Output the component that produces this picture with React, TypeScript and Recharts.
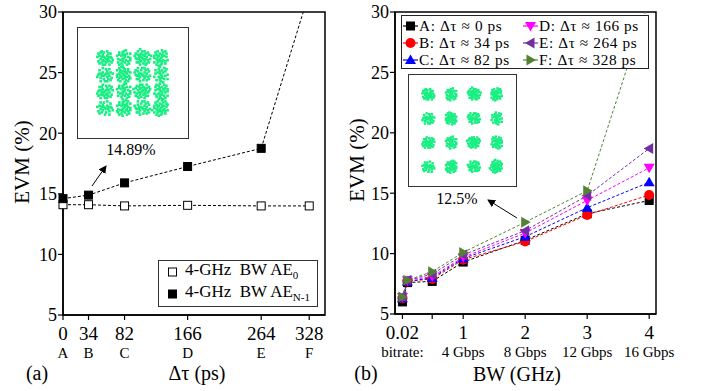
import React from "react";
import {
  Line,
  LineChart,
  ReferenceArea,
  Scatter,
  ScatterChart,
  XAxis,
  YAxis,
} from "recharts";

const FONT = '"Liberation Serif", Tinos, "Times New Roman", Times, "Nimbus Roman", "DejaVu Serif", serif';
const QAM_GREEN = "#17ee82";

// (a) EVM vs. delay mismatch, 4-GHz BW
const DELAY_PS = [0, 34, 82, 166, 264, 328];
const DELAY_LETTERS = ["A", "B", "C", "D", "E", "F"];
const EVM_AE0 = [14.1, 14.1, 14.0, 14.05, 14.0, 14.0];
const EVM_AEN1 = [14.6, 14.89, 15.9, 17.25, 18.75, 31.6];

// (b) EVM vs. bandwidth for each delay
const BW_GHZ = [0.02, 0.1, 0.5, 1, 2, 3, 4];
const EVM_A = [6.0, 7.6, 7.7, 9.3, 11.1, 13.3, 14.4];
const EVM_B = [6.3, 7.7, 7.9, 9.5, 11.0, 13.2, 14.85];
const EVM_C = [6.3, 7.7, 8.0, 9.6, 11.4, 13.8, 15.9];
const EVM_D = [6.4, 7.8, 8.1, 9.7, 11.7, 14.4, 17.1];
const EVM_E = [6.4, 7.8, 8.3, 9.9, 11.9, 14.8, 18.7];
const EVM_F = [6.4, 7.8, 8.5, 10.1, 12.6, 15.2, 31.0];

const BW_TICKS = [0.02, 0.5, 1, 2, 3, 4];
const BW_TICK_LABELS = ["0.02", "", "1", "2", "3", "4"];
const BITRATE_LABELS = ["bitrate:", "", "4 Gbps", "8 Gbps", "12 Gbps", "16 Gbps"];
const EVM_TICKS = [5, 10, 15, 20, 25, 30];

// 16-QAM symbol levels for the constellation insets
const QAM_LEVELS = [-3, -1, 1, 3];

type Shape = "square" | "circle" | "up" | "down" | "left" | "right";

interface SeriesDef {
  key: string;
  name: string;
  color: string;
  shape: Shape;
  values: number[];
}

const SERIES: SeriesDef[] = [
  { key: "a", name: "A: Δτ ≈ 0 ps", color: "#000000", shape: "square", values: EVM_A },
  { key: "b", name: "B: Δτ ≈ 34 ps", color: "#ff0000", shape: "circle", values: EVM_B },
  { key: "c", name: "C: Δτ ≈ 82 ps", color: "#0000ff", shape: "up", values: EVM_C },
  { key: "d", name: "D: Δτ ≈ 166 ps", color: "#ff00ff", shape: "down", values: EVM_D },
  { key: "e", name: "E: Δτ ≈ 264 ps", color: "#7030a0", shape: "left", values: EVM_E },
  { key: "f", name: "F: Δτ ≈ 328 ps", color: "#548235", shape: "right", values: EVM_F },
];

const delayData = DELAY_PS.map((ps, i) => ({ ps, ae0: EVM_AE0[i], aen1: EVM_AEN1[i] }));

const bwData = BW_GHZ.map((bw, i) => {
  const row: Record<string, number> = { bw };
  SERIES.forEach((s) => {
    row[s.key] = s.values[i];
  });
  return row;
});

const qamPoints = QAM_LEVELS.flatMap((q) => QAM_LEVELS.map((i) => ({ i, q })));

// scatter pattern of received symbols around each constellation point
const BLOB = [
  [0, 0], [2, -3], [-3, -1], [4, 1], [-1, 4], [3, 4], [-4, 3], [1, -5],
  [-5, -4], [5, -2], [-2, -6], [6, 3], [0, 6], [-6, 0], [4, -5], [-4, 6],
  [7, -1], [-7, 2], [2, 2], [-2, -2], [1, -1], [-1, 1], [3, -1], [-3, 1],
  [5, 5], [-5, -1], [2, 6], [-3, -4], [6, -4], [-6, 4], [1, 3], [-2, 3],
  [3, -6], [-1, -3], [8, 2], [-2, 8],
];

function Marker({ shape, cx, cy, color, size, hollow }: {
  shape: Shape;
  cx: number;
  cy: number;
  color: string;
  size: number;
  hollow?: boolean;
}) {
  const h = size / 2;
  const fill = hollow ? "#fff" : color;
  const stroke = color;
  switch (shape) {
    case "square":
      return <rect x={cx - h} y={cy - h} width={size} height={size} fill={fill} stroke={stroke} strokeWidth={1} />;
    case "circle":
      return <circle cx={cx} cy={cy} r={h} fill={fill} />;
    case "up":
      return <polygon points={`${cx},${cy - h * 1.1} ${cx - h * 1.1},${cy + h * 0.8} ${cx + h * 1.1},${cy + h * 0.8}`} fill={fill} />;
    case "down":
      return <polygon points={`${cx},${cy + h * 1.1} ${cx - h * 1.1},${cy - h * 0.8} ${cx + h * 1.1},${cy - h * 0.8}`} fill={fill} />;
    case "left":
      return <polygon points={`${cx - h * 1.1},${cy} ${cx + h * 0.8},${cy - h * 1.1} ${cx + h * 0.8},${cy + h * 1.1}`} fill={fill} />;
    default:
      return <polygon points={`${cx + h * 1.1},${cy} ${cx - h * 0.8},${cy - h * 1.1} ${cx - h * 0.8},${cy + h * 1.1}`} fill={fill} />;
  }
}

const dotRenderer = (shape: Shape, color: string, size: number, hollow = false) =>
  (props: any) => {
    const { cx, cy, index } = props;
    if (cx == null || cy == null) return <g key={`${color}-${index}`} />;
    return (
      <g key={`${shape}-${color}-${index}`}>
        <Marker shape={shape} cx={cx} cy={cy} color={color} size={size} hollow={hollow} />
      </g>
    );
  };

const DelayTick = (props: any) => {
  const { x, y, payload, index } = props;
  return (
    <g>
      <text x={x} y={y + 18} textAnchor="middle" fontSize={19} fontFamily={FONT} fill="#000">
        {payload.value}
      </text>
      <text x={x} y={y + 36} textAnchor="middle" fontSize={15} fontFamily={FONT} fill="#000">
        {DELAY_LETTERS[index]}
      </text>
    </g>
  );
};

const BwTick = (props: any) => {
  const { x, y, index } = props;
  return (
    <g>
      <text x={x} y={y + 18} textAnchor="middle" fontSize={19} fontFamily={FONT} fill="#000">
        {BW_TICK_LABELS[index]}
      </text>
      <text x={x} y={y + 36} textAnchor="middle" fontSize={15} fontFamily={FONT} fill="#000">
        {BITRATE_LABELS[index]}
      </text>
    </g>
  );
};

const yTick = { fontSize: 18, fill: "#000", fontFamily: FONT };
const axisLine = { stroke: "#000", strokeWidth: 1.5 };
const tickLine = { stroke: "#000", strokeWidth: 1.2 };

function Constellation({ width, height, xHalf, yHalf, spread, dot }: {
  width: number;
  height: number;
  xHalf: number;
  yHalf: number;
  spread: number;
  dot: number;
}) {
  const blob = (props: any) => {
    const { cx, cy, index = 0 } = props;
    // vary the pattern per symbol so the clusters don't look identical
    const swap = index % 2 === 1;
    const fx = index % 3 === 0 ? -1 : 1;
    const fy = index % 4 >= 2 ? -1 : 1;
    const keep = 26 + (index * 7) % 11;
    return (
      <g>
        {BLOB.slice(0, keep).map(([a, b], k) => {
          const dx = (swap ? b : a) * fx;
          const dy = (swap ? a : b) * fy;
          return (
            <rect
              key={k}
              x={cx + dx * spread - dot / 2}
              y={cy + dy * spread - dot / 2}
              width={dot}
              height={dot}
              fill={QAM_GREEN}
            />
          );
        })}
      </g>
    );
  };
  return (
    <ScatterChart width={width} height={height} margin={{ top: 0, right: 0, bottom: 0, left: 0 }}>
      <XAxis type="number" dataKey="i" domain={[-xHalf, xHalf]} hide />
      <YAxis type="number" dataKey="q" domain={[-yHalf, yHalf]} hide />
      <Scatter data={qamPoints} shape={blob} isAnimationActive={false} />
    </ScatterChart>
  );
}

function DelayChart() {
  return (
    <LineChart
      width={350}
      height={391}
      data={delayData}
      margin={{ top: 12, right: 25, bottom: 0, left: 18 }}
    >
      <XAxis
        type="number"
        dataKey="ps"
        domain={[0, 349]}
        ticks={DELAY_PS}
        height={76}
        tick={<DelayTick />}
        tickSize={5}
        axisLine={axisLine}
        tickLine={tickLine}
      />
      <YAxis
        type="number"
        domain={[5, 30]}
        ticks={EVM_TICKS}
        allowDataOverflow
        width={45}
        tick={yTick}
        tickSize={5}
        tickMargin={1}
        axisLine={axisLine}
        tickLine={tickLine}
      />
      <ReferenceArea x1={0} x2={349} y1={5} y2={30} fill="none" stroke="#000" strokeWidth={1.5} />
      <Line
        dataKey="ae0"
        stroke="#000"
        strokeWidth={1}
        strokeDasharray="3 2"
        dot={dotRenderer("square", "#000", 8, true)}
        isAnimationActive={false}
      />
      <Line
        dataKey="aen1"
        stroke="#000"
        strokeWidth={1}
        strokeDasharray="3 2"
        dot={dotRenderer("square", "#000", 8)}
        isAnimationActive={false}
      />
    </LineChart>
  );
}

function BandwidthChart() {
  return (
    <LineChart
      width={352}
      height={391}
      data={bwData}
      margin={{ top: 12, right: 51, bottom: 0, left: 5 }}
    >
      <XAxis
        type="number"
        dataKey="bw"
        domain={[-0.1, 4.11]}
        ticks={BW_TICKS}
        height={77}
        tick={<BwTick />}
        tickSize={5}
        axisLine={axisLine}
        tickLine={tickLine}
      />
      <YAxis
        type="number"
        domain={[5, 30]}
        ticks={EVM_TICKS}
        allowDataOverflow
        width={35}
        tick={yTick}
        tickSize={5}
        tickMargin={1}
        axisLine={axisLine}
        tickLine={tickLine}
      />
      <ReferenceArea x1={-0.1} x2={4.11} y1={5} y2={30} fill="none" stroke="#000" strokeWidth={1.5} />
      {SERIES.map((s) => (
        <Line
          key={s.key}
          dataKey={s.key}
          stroke={s.color}
          strokeWidth={1}
          strokeDasharray="3 2"
          dot={dotRenderer(s.shape, s.color, s.shape === "square" ? 8 : 10)}
          isAnimationActive={false}
        />
      ))}
    </LineChart>
  );
}

function LegendMarker({ shape, color, hollow, line }: { shape: Shape; color: string; hollow?: boolean; line?: boolean }) {
  return (
    <svg width={15} height={12} style={{ display: "block", flex: "none" }}>
      {line && <line x1={0} y1={6} x2={15} y2={6} stroke={color} strokeWidth={1.2} />}
      <Marker shape={shape} cx={7.5} cy={6} color={color} size={shape === "square" ? 8 : 10} hollow={hollow} />
    </svg>
  );
}

export default function App() {
  return (
    <div
      style={{
        position: "absolute",
        left: 0,
        top: 0,
        width: 707,
        height: 391,
        background: "#fff",
        fontFamily: FONT,
        color: "#000",
        overflow: "hidden",
      }}
    >
      <div style={{ position: "absolute", left: 0, top: 0 }}>
        <DelayChart />
      </div>
      <div style={{ position: "absolute", left: 355, top: 0 }}>
        <BandwidthChart />
      </div>

      {/* constellation insets */}
      <div style={{ position: "absolute", left: 77, top: 27, width: 110, height: 110, border: "1.5px solid #333", background: "#fff" }}>
        <Constellation width={110} height={110} xHalf={5.9} yHalf={6.6} spread={1.1} dot={2.6} />
      </div>
      <div style={{ position: "absolute", left: 408, top: 74, width: 107, height: 111, border: "1.5px solid #333", background: "#fff" }}>
        <Constellation width={107} height={111} xHalf={4.7} yHalf={4.6} spread={0.85} dot={2.4} />
      </div>

      {/* legend (a) */}
      <div
        style={{
          position: "absolute",
          left: 158,
          top: 260,
          width: 158,
          height: 45,
          border: "1.5px solid #333",
          background: "#fff",
          fontSize: 17,
          lineHeight: "23px",
        }}
      >
        {[
          { hollow: true, sub: "0" },
          { hollow: false, sub: "N-1" },
        ].map((item) => (
          <div key={item.sub} style={{ display: "flex", alignItems: "center", paddingLeft: 6, height: 22 }}>
            <LegendMarker shape="square" color="#000" hollow={item.hollow} />
            <span style={{ marginLeft: 5, whiteSpace: "nowrap" }}>
              4-GHz&nbsp; BW AE
              <sub style={{ fontSize: 11, verticalAlign: "-4px" }}>{item.sub}</sub>
            </span>
          </div>
        ))}
      </div>

      {/* legend (b) */}
      <div
        style={{
          position: "absolute",
          left: 401,
          top: 15,
          width: 248,
          height: 54,
          border: "1.5px solid #222",
          background: "#fff",
          fontSize: 15.3,
          letterSpacing: 0.6,
          display: "grid",
          gridTemplateColumns: "120px 1fr",
          gridAutoFlow: "column",
          gridTemplateRows: "repeat(3, 17px)",
          paddingTop: 1,
          boxSizing: "border-box",
        }}
      >
        {SERIES.map((s) => (
          <div key={s.key} style={{ display: "flex", alignItems: "center", paddingLeft: 1, whiteSpace: "nowrap", lineHeight: "17px" }}>
            <LegendMarker shape={s.shape} color={s.color} line />
            <span style={{ marginLeft: 1 }}>{s.name}</span>
          </div>
        ))}
      </div>

      {/* annotations */}
      <svg width={707} height={391} style={{ position: "absolute", left: 0, top: 0, pointerEvents: "none" }}>
        <defs>
          <marker id="arrowhead" markerWidth="8" markerHeight="8" refX="7" refY="4" orient="auto" markerUnits="userSpaceOnUse">
            <path d="M0,0 L8,4 L0,8 z" fill="#000" />
          </marker>
        </defs>
        <line x1={92} y1={186} x2={106} y2={166} stroke="#000" strokeWidth={1} markerEnd="url(#arrowhead)" />
        <line x1={517} y1={218} x2={488} y2={200} stroke="#000" strokeWidth={1} markerEnd="url(#arrowhead)" />
        <text x={131} y={155} textAnchor="middle" fontSize={16} fontFamily={FONT}>14.89%</text>
        <text x={457} y={204} textAnchor="middle" fontSize={16} fontFamily={FONT}>12.5%</text>
        <text x={22} y={162} textAnchor="middle" dominantBaseline="central" fontSize={21} fontFamily={FONT} transform="rotate(-90 22 162)">
          EVM (%)
        </text>
        <text x={357} y={160} textAnchor="middle" dominantBaseline="central" fontSize={21} fontFamily={FONT} transform="rotate(-90 357 160)">
          EVM (%)
        </text>
        <text x={37} y={380} textAnchor="middle" fontSize={20} fontFamily={FONT}>(a)</text>
        <text x={197} y={380} textAnchor="middle" fontSize={20} fontFamily={FONT}>Δτ (ps)</text>
        <text x={366} y={380} textAnchor="middle" fontSize={20} fontFamily={FONT}>(b)</text>
        <text x={517} y={381} textAnchor="middle" fontSize={20} fontFamily={FONT}>BW (GHz)</text>
      </svg>
    </div>
  );
}
